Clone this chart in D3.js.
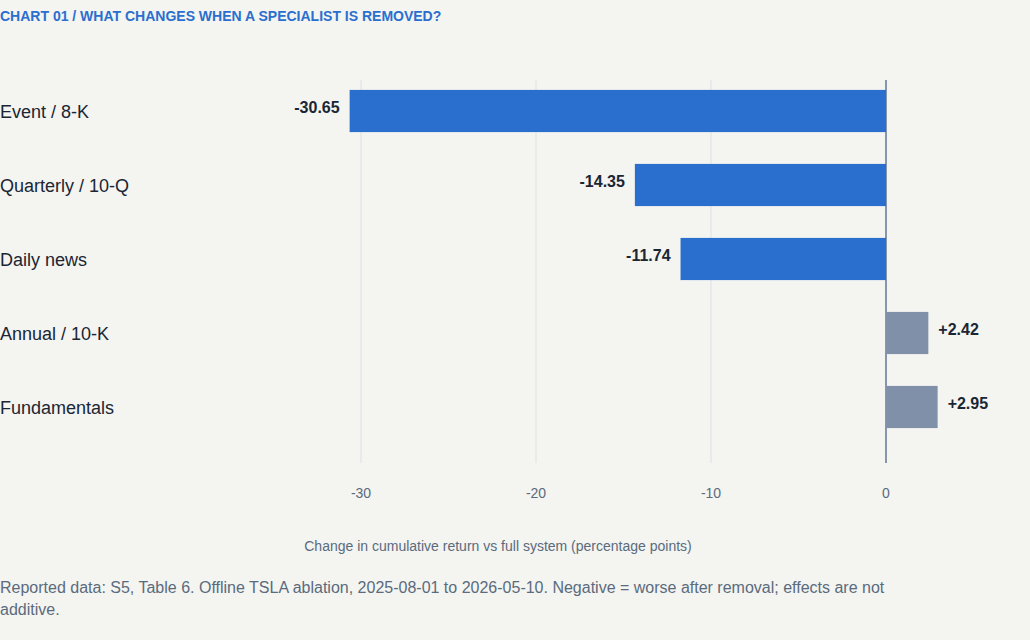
<!DOCTYPE html>
<html><head><meta charset="utf-8">
<script src="https://cdn.jsdelivr.net/npm/d3@7"></script>
<style>body{margin:0;background:#f4f4f1;font-family:"Liberation Sans",Arial,sans-serif;}</style>
</head><body><svg id="c" width="1030" height="640"></svg>
<script>
const categories=["Event / 8-K","Quarterly / 10-Q","Daily news","Annual / 10-K","Fundamentals"];
const values=[-30.65,-14.35,-11.74,2.42,2.95];
const ticks=[-30,-20,-10,0];
const svg=d3.select("#c");
svg.append("rect").attr("width",1030).attr("height",640).attr("fill","#f4f4f1");
const x=d3.scaleLinear().domain([-35,5]).range([273.5,973.5]);
const y=d3.scaleBand().domain(categories).range([74,444]).paddingInner(0.43).paddingOuter(0.215);
svg.append("text").attr("x",0).attr("y",21).attr("font-size",14).attr("font-weight","bold").attr("fill","#2a6fce").text("CHART 01 / WHAT CHANGES WHEN A SPECIALIST IS REMOVED?");
svg.selectAll(".g").data(ticks).join("line").attr("x1",d=>x(d)).attr("x2",d=>x(d)).attr("y1",80).attr("y2",463).attr("stroke",d=>d===0?"#8796aa":"#dde1e6").attr("stroke-width",d=>d===0?2:1);
svg.selectAll(".b").data(values).join("rect").attr("x",d=>x(Math.min(0,d))).attr("width",d=>Math.abs(x(d)-x(0))).attr("y",(d,i)=>y(categories[i])).attr("height",y.bandwidth()).attr("fill",d=>d<0?"#2a6fce":"#8090a8");
svg.selectAll(".v").data(values).join("text").attr("x",d=>d<0?x(d)-10:x(d)+10).attr("y",(d,i)=>y(categories[i])+y.bandwidth()/2-2).attr("dominant-baseline","middle").attr("text-anchor",d=>d<0?"end":"start").attr("font-size",16).attr("font-weight","bold").attr("fill","#1a2633").text(d=>(d>0?"+":"")+d.toFixed(2));
svg.selectAll(".c").data(categories).join("text").attr("x",0).attr("y",d=>y(d)+y.bandwidth()/2+2).attr("dominant-baseline","middle").attr("font-size",18).attr("fill","#1a2633").text(d=>d);
svg.selectAll(".t").data(ticks).join("text").attr("x",d=>x(d)).attr("y",498).attr("text-anchor","middle").attr("font-size",14).attr("fill","#5a6b7d").text(d=>d);
svg.append("text").attr("x",498).attr("y",551).attr("text-anchor","middle").attr("font-size",14).attr("fill","#5a6b7d").text("Change in cumulative return vs full system (percentage points)");
const fn=svg.append("text").attr("font-size",16).attr("fill","#5a6b7d");
fn.append("tspan").attr("x",0).attr("y",593).text("Reported data: S5, Table 6. Offline TSLA ablation, 2025-08-01 to 2026-05-10. Negative = worse after removal; effects are not");
fn.append("tspan").attr("x",0).attr("y",615).text("additive.");
</script></body></html>
